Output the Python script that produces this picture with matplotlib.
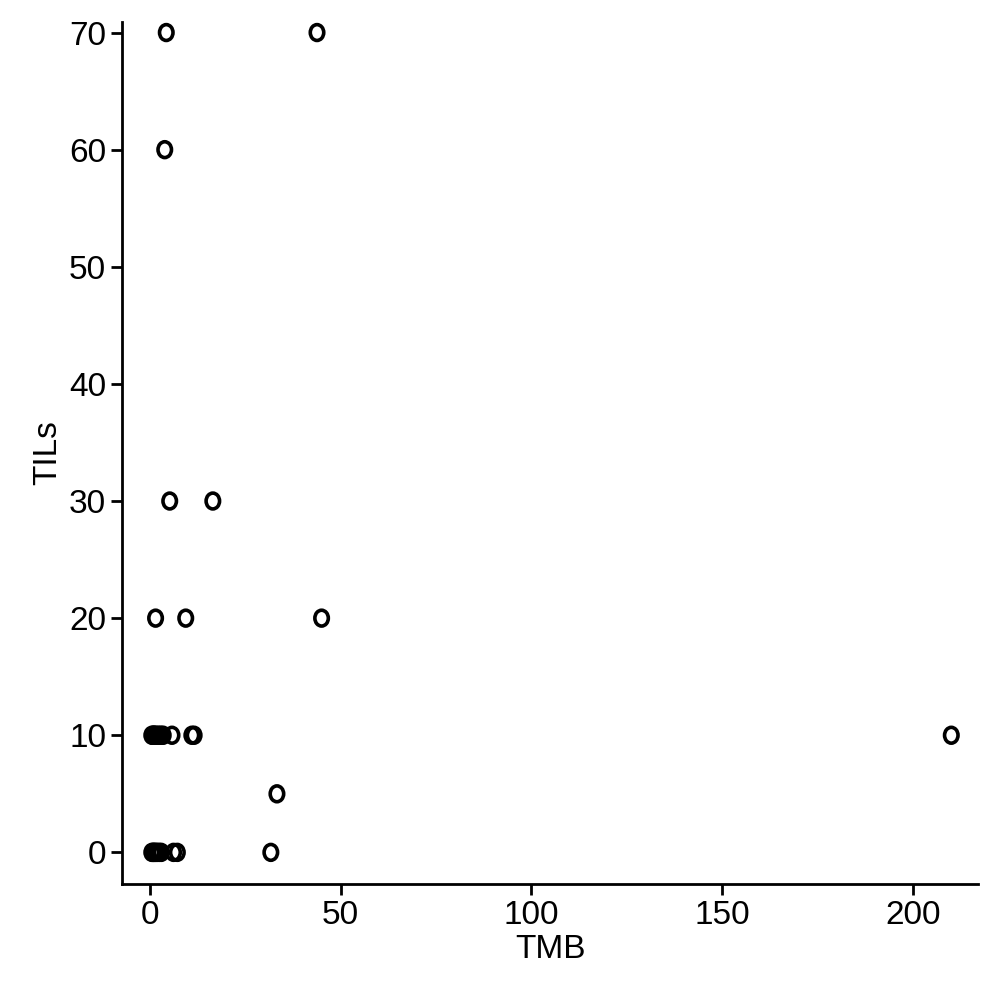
import matplotlib
matplotlib.use("Agg")
import matplotlib.pyplot as plt
from matplotlib.markers import MarkerStyle
from matplotlib.transforms import Affine2D

tmb = [0.5, 0.8, 1.0, 1.2, 1.5, 2.0, 2.5, 3.0, 3.5, 5.8, 11.0, 11.6, 210.0,
       0.5, 0.8, 1.0, 1.3, 1.6, 2.0, 2.5, 3.0, 6.2, 7.2, 31.7,
       33.3,
       1.5, 9.4, 45.0,
       5.2, 16.5,
       3.9,
       4.3, 43.8]
tils = [10]*13 + [0]*11 + [5] + [20]*3 + [30]*2 + [60] + [70]*2

fig = plt.figure(figsize=(9.82, 9.82), dpi=100)
ax = fig.add_axes([122/982, 98/982, 856/982, 862/982])

# slightly tall ellipse, like the original markers
ell = MarkerStyle('o', transform=Affine2D().scale(0.85, 1.0))
ax.scatter(tmb, tils, s=130, marker=ell, facecolors='none', edgecolors='black', linewidths=2.6)

ax.set_xlim(-7.3, 217)
ax.set_ylim(-2.7, 70.9)
ax.set_xticks([0, 50, 100, 150, 200])
ax.set_yticks([0, 10, 20, 30, 40, 50, 60, 70])
for s in ['top', 'right']:
    ax.spines[s].set_visible(False)
for s in ['left', 'bottom']:
    ax.spines[s].set_linewidth(2)
ax.tick_params(width=2, length=8, labelsize=24, direction='out')
ax.set_xlabel('TMB', fontsize=24, fontname='Liberation Sans', labelpad=2)
ax.set_ylabel('TILs', fontsize=24, fontname='Liberation Sans')
for lab in ax.get_xticklabels() + ax.get_yticklabels():
    lab.set_fontname('Liberation Sans')

fig.savefig('out.png', dpi=100)
